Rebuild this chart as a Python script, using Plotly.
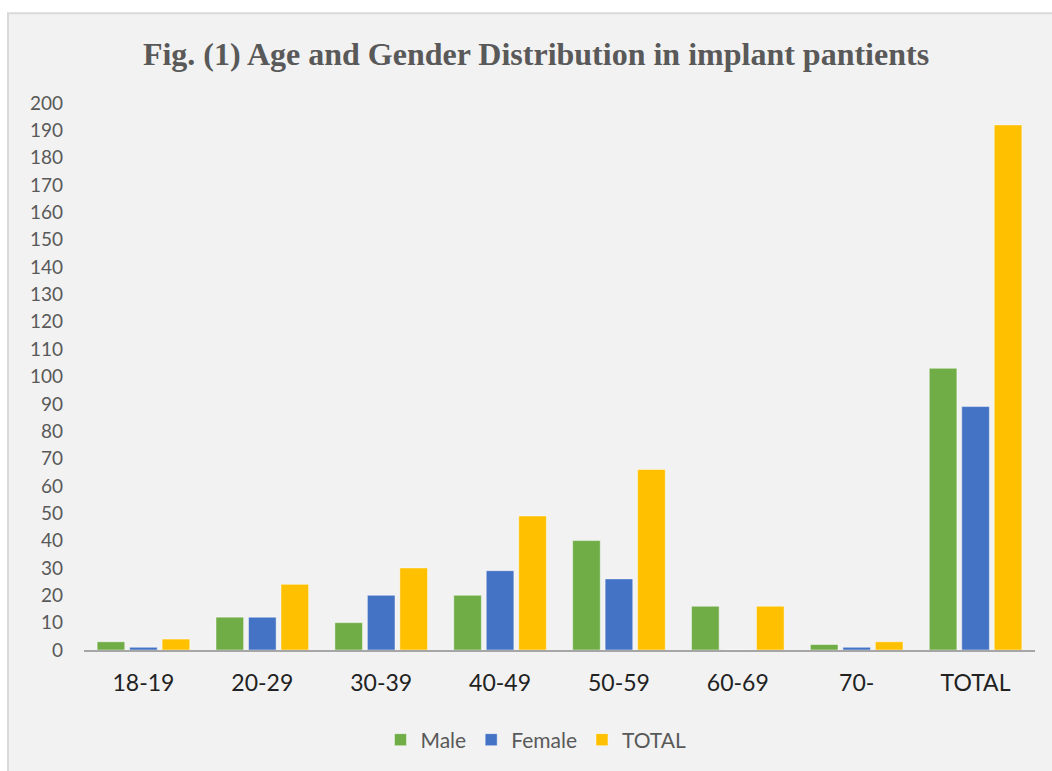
import plotly.graph_objects as go

categories = ["18-19", "20-29", "30-39", "40-49", "50-59", "60-69", "70-", "TOTAL"]
male = [3, 12, 10, 20, 40, 16, 2, 103]
female = [1, 12, 20, 29, 26, 0, 1, 89]
total = [4, 24, 30, 49, 66, 16, 3, 192]
y_ticks = list(range(0, 201, 10))

colors = {"Male": "#70ad47", "Female": "#4472c4", "TOTAL": "#ffc000"}

fig = go.Figure()
for name, vals in [("Male", male), ("Female", female), ("TOTAL", total)]:
    fig.add_trace(go.Bar(
        x=categories, y=vals, name=name,
        marker=dict(color=colors[name], line=dict(color="rgba(255,255,255,0.45)", width=1)),
    ))

L, R, T, B = 84, 17, 103, 120
W, H = 1052, 771
pw, ph = W - L - R, H - T - B

def px_x(x):
    return (x - L) / pw

def px_y(y):
    return (H - B - y) / ph

fig.add_shape(type="rect", xref="paper", yref="paper",
              x0=px_x(8), x1=px_x(1090), y0=px_y(830), y1=px_y(13),
              fillcolor="#f2f2f2", line=dict(color="#d9d9d9", width=2), layer="below")

fig.update_layout(
    width=W, height=H,
    margin=dict(l=L, r=R, t=T, b=B),
    paper_bgcolor="white",
    plot_bgcolor="rgba(0,0,0,0)",
    barmode="group",
    bargap=0.18,
    bargroupgap=0.15,
    title=dict(
        text="<b>Fig. (1) Age and Gender Distribution in implant pantients</b>",
        font=dict(family="Liberation Serif, Times New Roman, serif", size=32, color="#595959"),
        x=px_x(536), xanchor="center", xref="paper",
        y=1 - 54 / H, yanchor="middle",
    ),
    xaxis=dict(
        showgrid=False, showline=True, linecolor="#a6a6a6", linewidth=1.5,
        ticks="", tickfont=dict(family="Lato, sans-serif", size=23, color="#222222"),
        ticklabelstandoff=12,
    ),
    yaxis=dict(
        range=[0, 200], tickvals=y_ticks, showgrid=False, zeroline=False,
        showline=False, ticks="",
        tickfont=dict(family="Lato, sans-serif", size=19, color="#595959"),
        ticklabelstandoff=20,
    ),
    legend=dict(
        orientation="h", x=px_x(536), xanchor="center",
        y=px_y(740), yanchor="middle",
        font=dict(family="Lato, sans-serif", size=21, color="#595959"),
        bgcolor="rgba(0,0,0,0)",
    ),
    showlegend=True,
)

fig.write_html(
    "out.html",
    config={"displayModeBar": False},
    post_script="document.body.style.margin='0';document.body.style.overflow='hidden';",
)
